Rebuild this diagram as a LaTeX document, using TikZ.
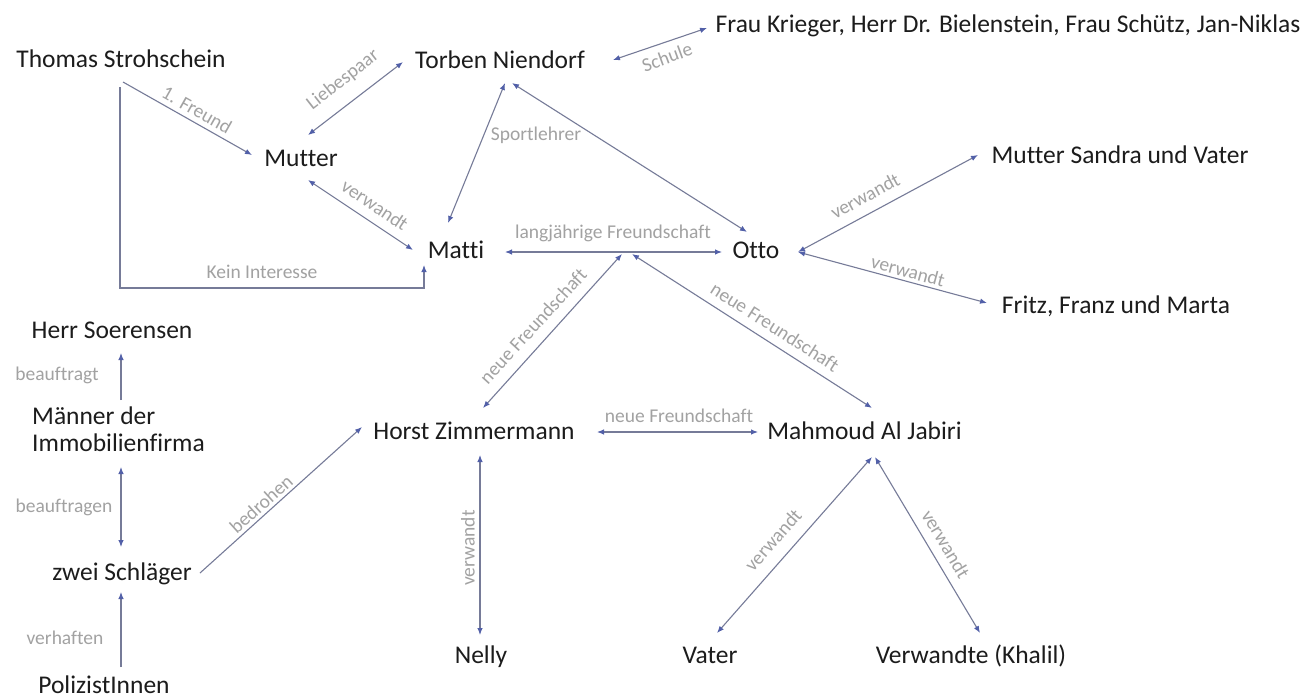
\documentclass[tikz,border=0pt]{standalone}
\usepackage{fontspec}
\setmainfont{Carlito}[Ligatures=NoCommon]
\usetikzlibrary{arrows.meta,calc}
\definecolor{txt}{RGB}{28,28,28}
\definecolor{lab}{RGB}{162,162,162}
\definecolor{linec}{RGB}{118,123,152}
\definecolor{arrc}{RGB}{82,96,168}
\tikzset{
  person/.style={font=\fontsize{25.5}{27}\selectfont, text=txt, inner sep=0pt, anchor=base},
  lbl/.style={font=\fontsize{19.5}{21}\selectfont, text=lab, inner sep=0pt},
  conn/.style={draw=linec, line width=1.1pt},
  one/.style={conn, -{Latex[length=7pt,width=5.5pt,color=arrc]}},
  both/.style={conn, {Latex[length=7pt,width=5.5pt,color=arrc]}-{Latex[length=7pt,width=5.5pt,color=arrc]}}
}
\begin{document}
\begin{tikzpicture}[x=1pt,y=-1pt]
\path[fill=white,use as bounding box] (0,0) rectangle (1315,697);

% persons
\node[person] (thomas) at (121,67) {Thomas Strohschein};
\node[person] (torben) at (500,68) {Torben Niendorf};
\node[person] (frau) at (1008,32) {Frau Krieger, Herr Dr. Bielenstein, Frau Schütz, Jan-Niklas};
\node[person] (mutter) at (301,166) {Mutter};
\node[person] (matti) at (456,258) {Matti};
\node[person] (otto) at (756,258) {Otto};
\node[person] (sandra) at (1120,163) {Mutter Sandra und Vater};
\node[person] (fritz) at (1116,313) {Fritz, Franz und Marta};
\node[person] (soerensen) at (112,338) {Herr Soerensen};
\node[person, anchor=north west, align=left] (maenner) at (32,407) {Männer der\\Immobilienfirma};
\node[person] (horst) at (474,439) {Horst Zimmermann};
\node[person] (mahmoud) at (864.5,439) {Mahmoud Al Jabiri};
\node[person] (schlaeger) at (122,580) {zwei Schläger};
\node[person] (polizist) at (104,693) {PolizistInnen};
\node[person] (nelly) at (481,663) {Nelly};
\node[person] (vater) at (710,663) {Vater};
\node[person] (verwandte) at (971,663) {Verwandte (Khalil)};
\coordinate (mid) at (627,254);

% connectors
\draw[one]  ($(thomas.base)+(2,15)$) -- ($(mutter.base)+(-49,-11)$);
\draw[both] ($(mutter.base)+(7,-31)$) -- ($(torben.base)+(-97,-6)$);
\draw[both] ($(torben.base)+(113,-8)$) -- ($(frau.base)+(-301,-4)$);
\draw[both] ($(torben.base)+(5,15)$) -- ($(matti.base)+(-8,-35)$);
\draw[both] ($(torben.base)+(12,15)$) -- ($(otto.base)+(-9,-26)$);
\draw[both] ($(mutter.base)+(7,14)$) -- ($(matti.base)+(-43,-8)$);
\draw[one]  ($(thomas.base)+(-1,20)$) |- ($(matti.base)+(-32,30)$) -- ($(matti.base)+(-32,7)$);
\draw[both] ($(matti.base)+(49,-6)$) -- ($(otto.base)+(-34,-6)$);
\draw[both] ($(horst.base)+(9,-31)$) -- ($(mid)+(-5,0)$);
\draw[both] ($(mahmoud.base)+(7.5,-31)$) -- ($(mid)+(5,0)$);
\draw[both] ($(horst.base)+(123,-7)$) -- ($(mahmoud.base)+(-106.5,-7)$);
\draw[both] ($(horst.base)+(6,16)$) -- ($(nelly.base)+(-1,-28)$);
\draw[both] ($(mahmoud.base)+(7.5,18)$) -- ($(vater.base)+(7,-30)$);
\draw[both] ($(mahmoud.base)+(10.5,18)$) -- ($(verwandte.base)+(9,-30)$);
\draw[both] ($(otto.base)+(42,-6)$) -- ($(sandra.base)+(-142,-8)$);
\draw[both] ($(otto.base)+(42,-6)$) -- ($(fritz.base)+(-129,-10)$);
\draw[one]  ($(maenner.north west)+(89,-7)$) -- ($(soerensen.base)+(9,15)$);
\draw[both] ($(maenner.north west)+(89,60)$) -- ($(schlaeger.base)+(-1,-33)$);
\draw[one]  ($(schlaeger.base)+(78,-7)$) -- ($(horst.base)+(-112,-12)$);
\draw[one]  ($(polizist.base)+(17,-26)$) -- ($(schlaeger.base)+(-1,12)$);

% labels
\node[lbl, rotate=-29.5] (l1) at (197,110) {1. Freund};
\node[lbl, rotate=38] (l2) at (343,80) {Liebespaar};
\node[lbl, rotate=20] (l3) at (667,57) {Schule};
\node[lbl] (l4) at (536,135) {Sportlehrer};
\node[lbl, rotate=-33.7] (l5) at (375,205) {verwandt};
\node[lbl] (l6) at (262,272) {Kein Interesse};
\node[lbl] (l7) at (613,233) {langjährige Freundschaft};
\node[lbl, rotate=47.5] (l8) at (533,326) {neue Freundschaft};
\node[lbl, rotate=-32.7] (l9) at (775,327) {neue Freundschaft};
\node[lbl] (l10) at (679,416) {neue Freundschaft};
\node[lbl, rotate=28.3] (l11) at (865,196) {verwandt};
\node[lbl, rotate=-15] (l12) at (908,271) {verwandt};
\node[lbl, rotate=90] (l13) at (468,548) {verwandt};
\node[lbl, rotate=48.6] (l14) at (773,540) {verwandt};
\node[lbl, rotate=-59.2] (l15) at (946,544) {verwandt};
\node[lbl] (l16) at (57,375) {beauftragt};
\node[lbl] (l17) at (64,507) {beauftragen};
\node[lbl, rotate=42] (l18) at (261,504) {bedrohen};
\node[lbl] (l19) at (65,638) {verhaften};
\end{tikzpicture}
\end{document}
